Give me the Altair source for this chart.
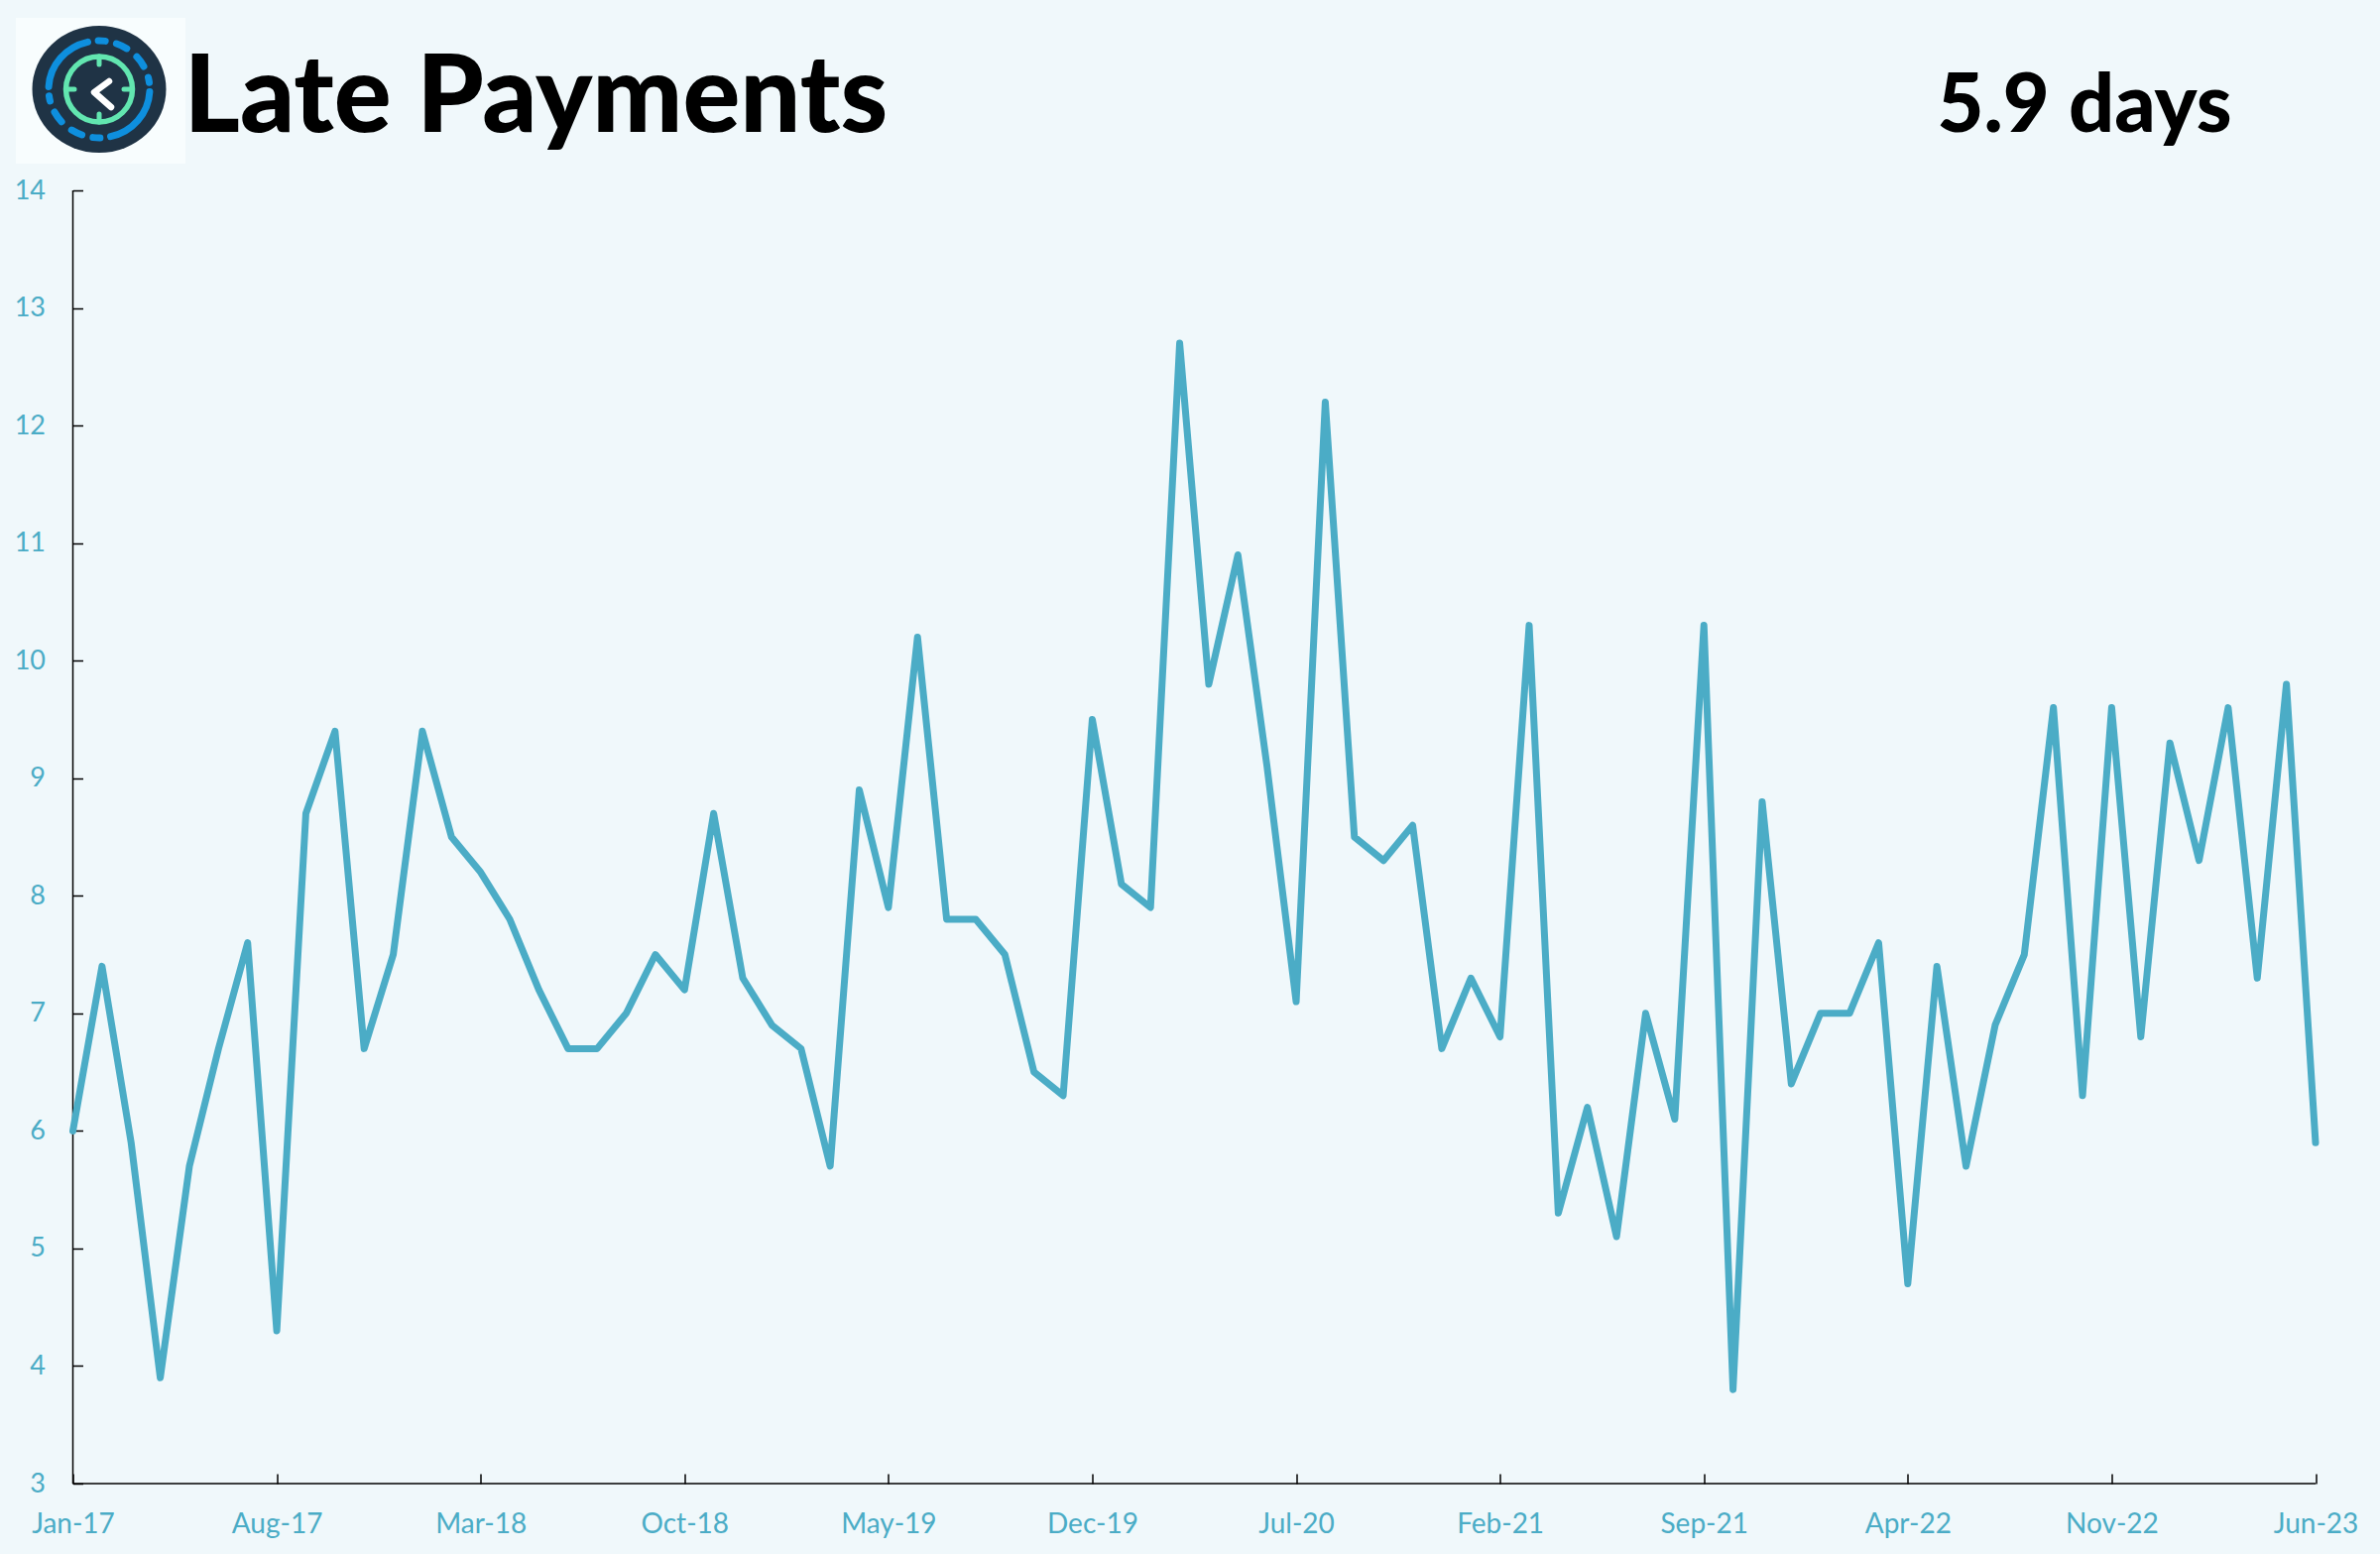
import base64
import math
import altair as alt
import pandas as pd

months = [f"{m}-{y}" for y in range(17, 24) for m in
          ["Jan", "Feb", "Mar", "Apr", "May", "Jun", "Jul", "Aug", "Sep", "Oct", "Nov", "Dec"]][:78]
late_days = [
    6.0, 7.4, 5.9, 3.9, 5.7, 6.7, 7.6, 4.3, 8.7, 9.4, 6.7, 7.5,
    9.4, 8.5, 8.2, 7.8, 7.2, 6.7, 6.7, 7.0, 7.5, 7.2, 8.7, 7.3,
    6.9, 6.7, 5.7, 8.9, 7.9, 10.2, 7.8, 7.8, 7.5, 6.5, 6.3, 9.5,
    8.1, 7.9, 12.7, 9.8, 10.9, 9.1, 7.1, 12.2, 8.5, 8.3, 8.6, 6.7,
    7.3, 6.8, 10.3, 5.3, 6.2, 5.1, 7.0, 6.1, 10.3, 3.8, 8.8, 6.4,
    7.0, 7.0, 7.6, 4.7, 7.4, 5.7, 6.9, 7.5, 9.6, 6.3, 9.6, 6.8,
    9.3, 8.3, 9.6, 7.3, 9.8, 5.9,
]
x_ticks = ["Jan-17", "Aug-17", "Mar-18", "Oct-18", "May-19", "Dec-19", "Jul-20",
           "Feb-21", "Sep-21", "Apr-22", "Nov-22", "Jun-23"]
y_ticks = list(range(3, 15))
title_text = "Late Payments"
kpi_text = "5.9 days"

BG = "#F0F8FB"
TEAL = "#4BACC6"
FONT = "Lato"
W, H = 2261.5, 1304
TICK = 10

# logo: blue dashes as arcs, angles clockwise from 12 o'clock
cx, cy, rx, ry = 84, 72, 51, 49
arcs = [(273, 347), (359, 7), (20, 33), (48, 62), (76, 82)]
segments = []
for a0, a1 in arcs:
    for shift in (0, 180):
        s, e = math.radians(a0 + shift), math.radians(a1 + shift)
        if e < s:
            e += 2 * math.pi
        sx, sy = cx + rx * math.sin(s), cy - ry * math.cos(s)
        ex, ey = cx + rx * math.sin(e), cy - ry * math.cos(e)
        segments.append(f"M{sx:.1f} {sy:.1f}A{rx} {ry} 0 0 1 {ex:.1f} {ey:.1f}")
blue_path = "".join(segments)

logo_svg = f"""<svg xmlns="http://www.w3.org/2000/svg" width="171" height="147" viewBox="0 0 171 147">
<rect width="171" height="147" fill="#F8FDFE"/>
<ellipse cx="{cx}" cy="{cy}" rx="67.5" ry="64" fill="#1F3345"/>
<path d="{blue_path}" fill="none" stroke="#0E8FDE" stroke-width="7" stroke-linecap="round"/>
<ellipse cx="{cx}" cy="{cy}" rx="33.5" ry="33" fill="none" stroke="#62E6B0" stroke-width="5.5"/>
<path d="M{cx} {cy-33}v8M{cx} {cy+33}v-8M{cx-33} {cy}h8M{cx+33} {cy}h-8" stroke="#62E6B0" stroke-width="5" fill="none" stroke-linecap="round"/>
<path d="M94 64L79 75L96 90" stroke="#FFFFFF" stroke-width="6.5" fill="none" stroke-linecap="round" stroke-linejoin="round"/>
</svg>"""
logo_uri = "data:image/svg+xml;base64," + base64.b64encode(logo_svg.encode()).decode()

df = pd.DataFrame({"month": months, "days": late_days})

x_enc = alt.X("month:O", sort=months, title=None,
              scale=alt.Scale(type="point", padding=0),
              axis=alt.Axis(values=x_ticks, orient="bottom", offset=-TICK, tickSize=TICK, tickWidth=1.5,
                            tickColor="#000000", domain=False, labelAngle=0, labelPadding=27,
                            labelColor=TEAL, labelFont=FONT, labelFontSize=28, labelOverlap=False,
                            labelFlush=False, grid=False))
y_enc = alt.Y("days:Q", title=None, scale=alt.Scale(domain=[3, 14], nice=False, zero=False),
              axis=alt.Axis(values=y_ticks, orient="left", offset=-TICK, tickSize=TICK, tickWidth=1.5,
                            tickColor="#000000", domain=False, labelPadding=28,
                            labelColor=TEAL, labelFont=FONT, labelFontSize=27, grid=False))

line = alt.Chart(df).mark_line(color=TEAL, strokeWidth=7, strokeCap="round", strokeJoin="round",
                               clip=False).encode(x=x_enc, y=y_enc)

one = alt.Data(values=[{"a": 1}])
y_axis_line = alt.Chart(one).mark_rule(color="#000000", strokeWidth=1.5).encode(
    x=alt.value(0), y=alt.value(0), y2=alt.value(H))
x_axis_line = alt.Chart(one).mark_rule(color="#000000", strokeWidth=1.5).encode(
    x=alt.value(0), x2=alt.value(W), y=alt.value(H))

logo = alt.Chart(one).mark_image(url=logo_uri, width=171, height=147, align="left", baseline="top").encode(
    x=alt.value(-57.5), y=alt.value(-174))

title = alt.Chart(alt.Data(values=[{"t": title_text}])).mark_text(
    font=FONT, fontSize=108, fontWeight=900, color="#000000", align="left", baseline="alphabetic"
).encode(text="t:N", x=alt.value(112), y=alt.value(-59))

kpi = alt.Chart(alt.Data(values=[{"t": kpi_text}])).mark_text(
    font=FONT, fontSize=81, fontWeight=900, color="#000000", align="left", baseline="alphabetic"
).encode(text="t:N", x=alt.value(1880), y=alt.value(-59))

chart = alt.layer(y_axis_line, x_axis_line, line, logo, title, kpi).properties(
    width=W, height=H, background=BG,
    padding={"left": 65.5, "top": 184, "right": 57, "bottom": 55},
    autosize=alt.AutoSizeParams(type="none"),
).configure_view(stroke=None)

chart.save("out.html", embed_options={"renderer": "svg", "actions": False, "defaultStyle": f"html,body{{background:{BG} !important;}}.vega-embed{{position:relative;display:inline-block;}}"})
